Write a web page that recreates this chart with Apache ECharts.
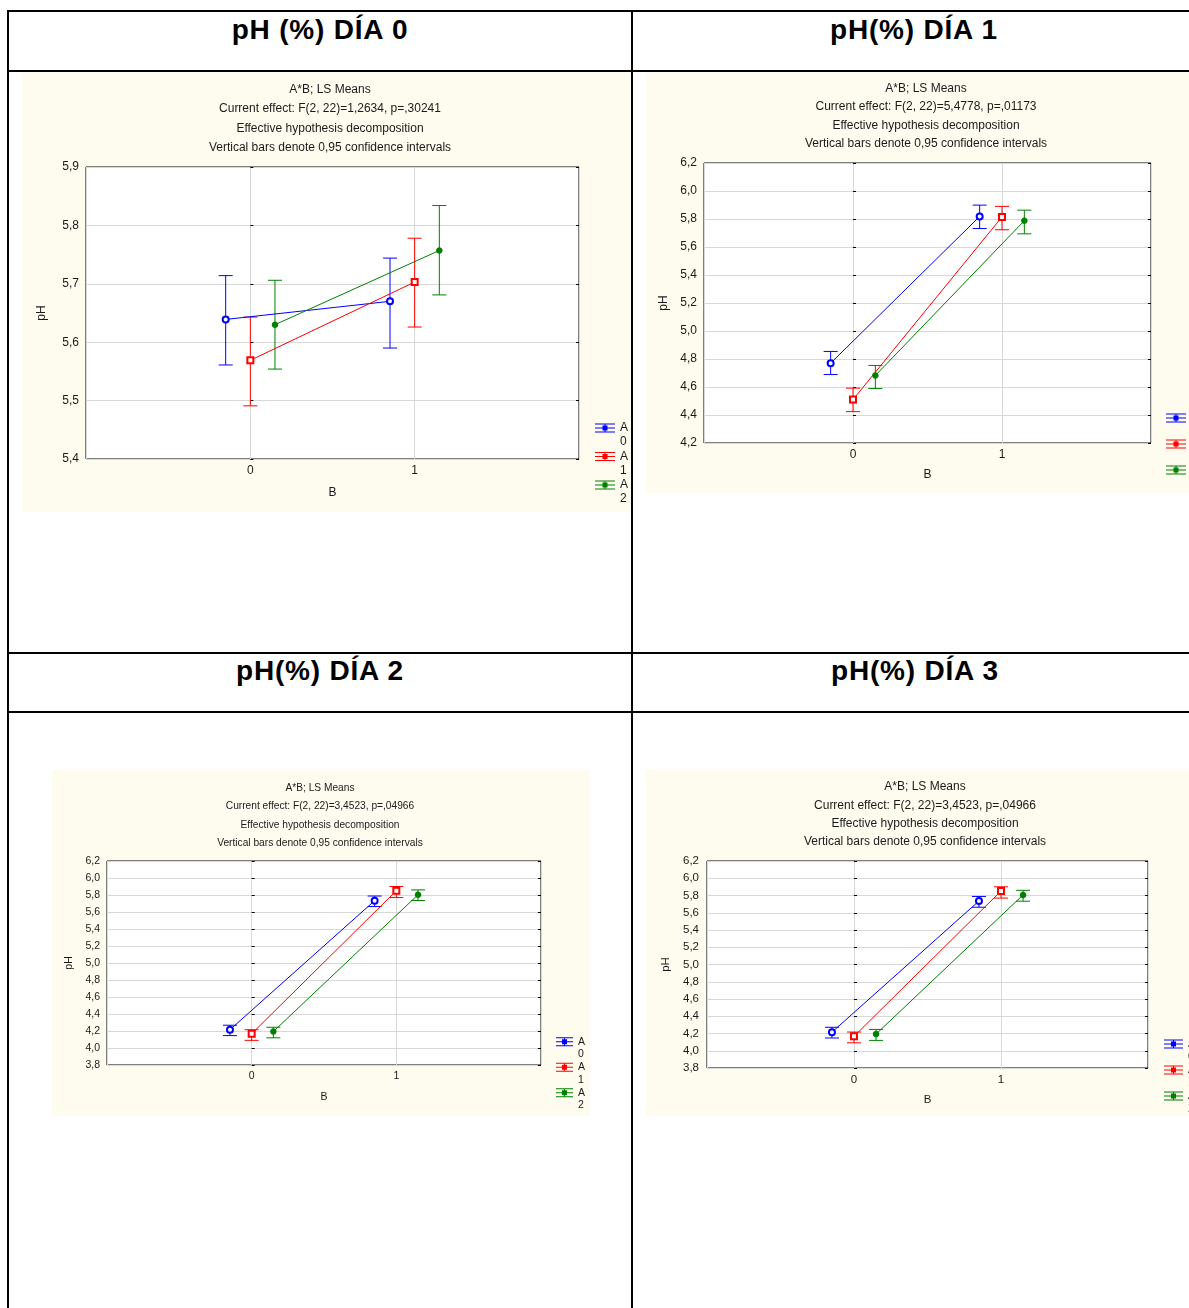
<!DOCTYPE html>
<html><head><meta charset="utf-8">
<script src="https://cdn.jsdelivr.net/npm/echarts@6/dist/echarts.min.js"></script>
<style>
html,body{margin:0;padding:0;background:#fff;}
body{width:1189px;height:1308px;overflow:hidden;position:relative;font-family:"Liberation Sans",Arial,sans-serif;}
.ln{position:absolute;background:#000;}
.ttl{position:absolute;font-weight:bold;font-size:28px;line-height:28px;letter-spacing:0.8px;transform:translateX(-50%);white-space:nowrap;color:#000;}
.panel{position:absolute;background:#fefbef;}
</style></head><body>
<div class="ln" style="left:7px;top:10px;width:1182px;height:2px"></div>
<div class="ln" style="left:7px;top:70px;width:1182px;height:2px"></div>
<div class="ln" style="left:7px;top:652px;width:1182px;height:2px"></div>
<div class="ln" style="left:7px;top:711px;width:1182px;height:2px"></div>
<div class="ln" style="left:7px;top:10px;width:2px;height:1298px"></div>
<div class="ln" style="left:631px;top:10px;width:2px;height:1298px"></div>
<div class="ttl" style="left:320px;top:16px">pH (%) DÍA 0</div>
<div class="ttl" style="left:914px;top:16px">pH(%) DÍA 1</div>
<div class="ttl" style="left:320px;top:657px">pH(%) DÍA 2</div>
<div class="ttl" style="left:915px;top:657px">pH(%) DÍA 3</div>
<div class="panel" id="p0" style="left:22px;top:72px;width:609px;height:440px"></div>
<div class="panel" id="p1" style="left:646px;top:72px;width:543px;height:421px"></div>
<div class="panel" id="p2" style="left:52px;top:770px;width:538px;height:346px"></div>
<div class="panel" id="p3" style="left:646px;top:770px;width:543px;height:346px"></div>
<script>
// ---- data ----
const bLevels = [0, 1];
const seriesNames = ['A 0', 'A 1', 'A 2'];

// Día 0  (rows: A0, A1, A2 ; columns: B=0, B=1)
const day0Mean  = [[5.639, 5.670], [5.569, 5.703], [5.630, 5.757]];
const day0Lower = [[5.561, 5.590], [5.491, 5.626], [5.554, 5.681]];
const day0Upper = [[5.714, 5.744], [5.643, 5.778], [5.706, 5.834]];

// Día 1
const day1Mean  = [[4.770, 5.818], [4.510, 5.815], [4.682, 5.788]];
const day1Lower = [[4.689, 5.732], [4.424, 5.723], [4.589, 5.694]];
const day1Upper = [[4.854, 5.899], [4.592, 5.890], [4.754, 5.863]];

// Día 2
const day2Mean  = [[4.215, 5.733], [4.167, 5.850], [4.194, 5.803]];
const day2Lower = [[4.146, 5.664], [4.090, 5.770], [4.120, 5.735]];
const day2Upper = [[4.268, 5.788], [4.215, 5.900], [4.244, 5.860]];

// Día 3
const day3Mean  = [[4.215, 5.736], [4.167, 5.852], [4.193, 5.806]];
const day3Lower = [[4.148, 5.664], [4.092, 5.770], [4.120, 5.734]];
const day3Upper = [[4.272, 5.789], [4.217, 5.901], [4.247, 5.860]];

const yTicks0 = [5.4, 5.9, 0.1];
const yTicks1 = [4.2, 6.2, 0.2];
const yTicks23 = [3.8, 6.2, 0.2];

const subtitles0 = ['A*B; LS Means', 'Current effect: F(2, 22)=1,2634, p=,30241', 'Effective hypothesis decomposition', 'Vertical bars denote 0,95 confidence intervals'];
const subtitles1 = ['A*B; LS Means', 'Current effect: F(2, 22)=5,4778, p=,01173', 'Effective hypothesis decomposition', 'Vertical bars denote 0,95 confidence intervals'];
const subtitles2 = ['A*B; LS Means', 'Current effect: F(2, 22)=3,4523, p=,04966', 'Effective hypothesis decomposition', 'Vertical bars denote 0,95 confidence intervals'];
const subtitles3 = ['A*B; LS Means', 'Current effect: F(2, 22)=3,4523, p=,04966', 'Effective hypothesis decomposition', 'Vertical bars denote 0,95 confidence intervals'];

// ---- styling ----
const COLORS = ['#0000ff', '#ff0000', '#008000'];
const DODGE = [-0.15, 0, 0.15];
const SYMBOLS = ['emptyCircle', 'emptyRect', 'circle'];
const SYMSIZE = [6, 6, 5];
const FONT = '"Liberation Sans", Arial, sans-serif';
const TXT = '#1a1a1a';

function iconPath(W, H) {
  const cy = H / 4, t = cy - 4.5, b = cy + 4.5, mid = W / 2;
  let p = 'path://M0,0L0.01,0L0,0.01Z M' + W + ',' + H + 'L' + (W - 0.01) + ',' + H + 'L' + W + ',' + (H - 0.01) + 'Z';
  p += ' M0,' + t + 'H' + W + 'V' + (t + 1) + 'H0Z';
  p += ' M0,' + (b - 1) + 'H' + W + 'V' + b + 'H0Z';
  p += ' M0,' + (cy - 0.5) + 'H' + W + 'V' + (cy + 0.5) + 'H0Z';
  p += ' M' + (mid - 0.5) + ',' + t + 'H' + (mid + 0.5) + 'V' + b + 'H' + (mid - 0.5) + 'Z';
  p += ' M' + (mid - 2.5) + ',' + (cy - 2.5) + 'H' + (mid + 2.5) + 'V' + (cy + 2.5) + 'H' + (mid - 2.5) + 'Z';
  return p;
}

function makeErr(color, cap) {
  return function (params, api) {
    const x = api.value(0), lo = api.value(1), hi = api.value(2);
    const a = api.coord([x, lo]), b = api.coord([x, hi]);
    const st = { stroke: color, lineWidth: 1 };
    return {
      type: 'group', children: [
        { type: 'line', shape: { x1: a[0], y1: a[1], x2: b[0], y2: b[1] }, style: st },
        { type: 'line', shape: { x1: a[0] - cap, y1: a[1], x2: a[0] + cap, y2: a[1] }, style: st },
        { type: 'line', shape: { x1: b[0] - cap, y1: b[1], x2: b[0] + cap, y2: b[1] }, style: st }
      ]
    };
  };
}

function fmtY(v) { return v.toFixed(1).replace('.', ','); }

function build(id, cfg) {
  const chart = echarts.init(document.getElementById(id), null, { renderer: 'canvas' });
  const series = [];
  for (let i = 0; i < 3; i++) {
    series.push({
      name: seriesNames[i], type: 'custom', z: 2, silent: true,
      renderItem: makeErr(COLORS[i], 7),
      encode: { x: 0, y: [1, 2] },
      data: bLevels.map((b, j) => [b + DODGE[i], cfg.lower[i][j], cfg.upper[i][j]])
    });
    series.push({
      name: seriesNames[i], type: 'line', z: 3, silent: true,
      symbol: SYMBOLS[i], symbolSize: SYMSIZE[i],
      lineStyle: { color: COLORS[i], width: 1 },
      itemStyle: { color: COLORS[i], borderColor: COLORS[i], borderWidth: 1.5 },
      data: bLevels.map((b, j) => [b + DODGE[i], cfg.mean[i][j]])
    });
  }
  const H = cfg.leg.L * 2;
  const axisCommon = {
    type: 'value', min: cfg.y[0], max: cfg.y[1], interval: cfg.y[2]
  };
  const option = {
    animation: false,
    backgroundColor: 'transparent',
    textStyle: { fontFamily: FONT },
    grid: Object.assign({ show: true, borderColor: '#000', borderWidth: 1, backgroundColor: '#fff', containLabel: false, outerBoundsMode: 'none' }, cfg.grid),
    xAxis: {
      type: 'value', min: -1, max: 2, interval: 1,
      axisLine: { show: false }, axisTick: { show: false },
      splitLine: { show: true, lineStyle: { color: '#d8d8d8', width: 1 } },
      axisLabel: { formatter: v => (v === 0 || v === 1) ? String(v) : '', margin: cfg.xm, fontSize: cfg.fs, color: TXT, fontFamily: FONT },
      name: 'B', nameLocation: 'middle', nameGap: cfg.ngx,
      nameTextStyle: { fontSize: cfg.fs, color: TXT, fontFamily: FONT }
    },
    yAxis: [
      Object.assign({}, axisCommon, {
        position: 'left',
        axisLine: { show: false },
        axisTick: { show: true, inside: true, length: 3, lineStyle: { color: '#000' } },
        splitLine: { show: true, lineStyle: { color: '#d8d8d8', width: 1 } },
        axisLabel: { formatter: fmtY, margin: cfg.ym, fontSize: cfg.fs, color: TXT, fontFamily: FONT },
        name: 'pH', nameLocation: 'middle', nameGap: cfg.ngy, nameRotate: 90,
        nameTextStyle: { fontSize: cfg.fs, color: TXT, fontFamily: FONT }
      }),
      Object.assign({}, axisCommon, {
        position: 'right',
        axisLine: { show: false },
        axisTick: { show: true, inside: true, length: 3, lineStyle: { color: '#000' } },
        splitLine: { show: false },
        axisLabel: { show: false }
      })
    ],
    legend: {
      orient: 'vertical', left: cfg.leg.left, top: cfg.leg.top, padding: 0,
      itemWidth: cfg.leg.W, itemHeight: H, itemGap: cfg.leg.gap, selectedMode: false,
      data: seriesNames.map((n, i) => ({ name: n, icon: iconPath(cfg.leg.W, H), itemStyle: { color: COLORS[i], borderWidth: 0, opacity: 1 } })),
      formatter: n => 'A\n' + n.split(' ')[1],
      textStyle: { fontSize: cfg.leg.fs, lineHeight: cfg.leg.L, color: TXT, fontFamily: FONT }
    },
    graphic: cfg.sub.map((s, k) => ({
      type: 'text', x: cfg.subX, y: cfg.subY[k], silent: true,
      style: { text: s, fill: TXT, font: cfg.subFs + 'px ' + FONT, textAlign: 'center', textVerticalAlign: 'middle' }
    })),
    series: series
  };
  chart.setOption(option);
}

build('p0', {
  mean: day0Mean, lower: day0Lower, upper: day0Upper, y: yTicks0,
  grid: { left: 64, top: 95, width: 493, height: 292 },
  fs: 12, xm: 6, ym: 7, ngx: 28, ngy: 38,
  sub: subtitles0, subX: 308, subY: [18, 37, 56.5, 76], subFs: 12,
  leg: { left: 573, top: 349, W: 20, L: 14, gap: 0.5, fs: 12 }
});
build('p1', {
  mean: day1Mean, lower: day1Lower, upper: day1Upper, y: yTicks1,
  grid: { left: 58, top: 91, width: 447, height: 280 },
  fs: 12, xm: 6, ym: 7, ngx: 26, ngy: 32,
  sub: subtitles1, subX: 280, subY: [16.5, 34.5, 53.5, 71.5], subFs: 12,
  leg: { left: 520, top: 339.5, W: 20, L: 13, gap: 0, fs: 12 }
});
build('p2', {
  mean: day2Mean, lower: day2Lower, upper: day2Upper, y: yTicks23,
  grid: { left: 55, top: 91, width: 434, height: 204 },
  fs: 10.5, xm: 6, ym: 7, ngx: 27, ngy: 31,
  sub: subtitles2, subX: 268, subY: [18, 36, 55, 73], subFs: 10.2,
  leg: { left: 504, top: 265.5, W: 17, L: 12.5, gap: 0.5, fs: 10.5 }
});
build('p3', {
  mean: day3Mean, lower: day3Lower, upper: day3Upper, y: yTicks23,
  grid: { left: 61, top: 91, width: 441, height: 207 },
  fs: 11.5, xm: 6, ym: 8, ngx: 26, ngy: 33,
  sub: subtitles3, subX: 279, subY: [17, 36, 54, 72], subFs: 12,
  leg: { left: 518, top: 267.5, W: 19, L: 13, gap: 0, fs: 12 }
});
</script>
</body></html>
